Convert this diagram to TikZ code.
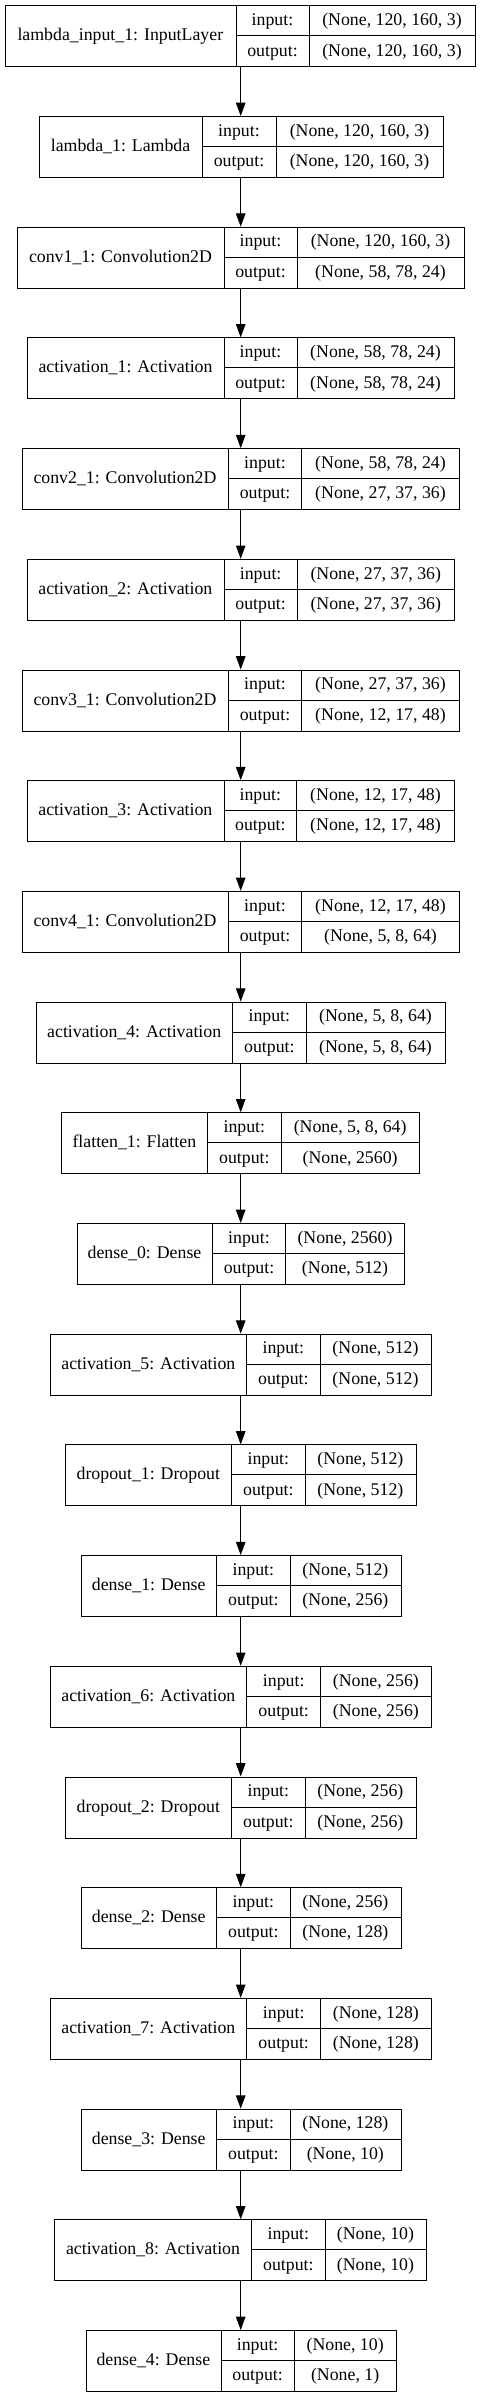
\documentclass[tikz,border=0pt]{standalone}
\usepackage{fontspec}
\setmainfont{Liberation Serif}
\usetikzlibrary{arrows.meta}
\tikzset{
  box/.style={draw, line width=1pt, anchor=north west, minimum height=61pt, inner sep=0pt},
  cell/.style={line width=1pt},
  txt/.style={inner sep=0pt, text height=13pt, text depth=3pt, font=\fontsize{17.8}{20}\selectfont},
  arr/.style={line width=1pt, -{Triangle[length=13.3pt, width=9.5pt]}}
}
\newcommand\lyr[8]{%
  \pgfmathsetmacro\Ly{5.3+#1*110.7}%
  \pgfmathsetmacro\Lm{\Ly+30.5}%
  \pgfmathsetmacro\Lb{\Ly+61}%
  \pgfmathsetmacro\Lw{#5-#2}%
  \node[box, minimum width=\Lw pt] (L#1) at (#2,\Ly) {};
  \draw[cell] (#3,\Ly) -- (#3,\Lb) (#4,\Ly) -- (#4,\Lb) (#3,\Lm) -- (#5,\Lm);
  \node[txt] (L#1name) at ({(#2+#3)/2},\Lm) {#6};
  \node[txt] (L#1inl) at ({(#3+#4)/2},{\Ly+15.25}) {input:};
  \node[txt] (L#1outl) at ({(#3+#4)/2},{\Ly+45.75}) {output:};
  \node[txt] (L#1in) at ({(#4+#5)/2},{\Ly+15.25}) {#7};
  \node[txt] (L#1out) at ({(#4+#5)/2},{\Ly+45.75}) {#8};
}
\begin{document}
\begin{tikzpicture}[x=1pt, y=-1pt]
\fill[white] (0,0) rectangle (481,2397);
\useasboundingbox (0,0) rectangle (481,2397);
\coordinate (ax) at (240.7,0);
\lyr{0}{4.7}{236}{309}{475}{lambda\_input\_1: InputLayer}{(None, 120, 160, 3)}{(None, 120, 160, 3)}
\lyr{1}{39}{202}{276}{443}{lambda\_1: Lambda}{(None, 120, 160, 3)}{(None, 120, 160, 3)}
\lyr{2}{17}{224}{297}{464}{conv1\_1: Convolution2D}{(None, 120, 160, 3)}{(None, 58, 78, 24)}
\lyr{3}{27}{224}{297}{454}{activation\_1: Activation}{(None, 58, 78, 24)}{(None, 58, 78, 24)}
\lyr{4}{21.7}{228.3}{301.7}{459.3}{conv2\_1: Convolution2D}{(None, 58, 78, 24)}{(None, 27, 37, 36)}
\lyr{5}{26.7}{224}{297.3}{454.3}{activation\_2: Activation}{(None, 27, 37, 36)}{(None, 27, 37, 36)}
\lyr{6}{21.7}{228.3}{301.7}{459.3}{conv3\_1: Convolution2D}{(None, 27, 37, 36)}{(None, 12, 17, 48)}
\lyr{7}{26.7}{224}{296.7}{454.3}{activation\_3: Activation}{(None, 12, 17, 48)}{(None, 12, 17, 48)}
\lyr{8}{21.7}{228.3}{301.7}{459.3}{conv4\_1: Convolution2D}{(None, 12, 17, 48)}{(None, 5, 8, 64)}
\lyr{9}{35.7}{232.7}{306}{445}{activation\_4: Activation}{(None, 5, 8, 64)}{(None, 5, 8, 64)}
\lyr{10}{61}{207.7}{281}{419.3}{flatten\_1: Flatten}{(None, 5, 8, 64)}{(None, 2560)}
\lyr{11}{76.7}{212.3}{285.7}{404.3}{dense\_0: Dense}{(None, 2560)}{(None, 512)}
\lyr{12}{50}{246.7}{320}{431}{activation\_5: Activation}{(None, 512)}{(None, 512)}
\lyr{13}{65}{231.7}{305}{415.7}{dropout\_1: Dropout}{(None, 512)}{(None, 512)}
\lyr{14}{80.7}{216.7}{290}{400.7}{dense\_1: Dense}{(None, 512)}{(None, 256)}
\lyr{15}{50}{246.7}{320.7}{431}{activation\_6: Activation}{(None, 256)}{(None, 256)}
\lyr{16}{65}{231.7}{305}{415.7}{dropout\_2: Dropout}{(None, 256)}{(None, 256)}
\lyr{17}{80.7}{216.7}{290}{400.7}{dense\_2: Dense}{(None, 256)}{(None, 128)}
\lyr{18}{50}{246.7}{320.7}{431}{activation\_7: Activation}{(None, 128)}{(None, 128)}
\lyr{19}{80.7}{216.7}{290}{400.7}{dense\_3: Dense}{(None, 128)}{(None, 10)}
\lyr{20}{54.3}{251.7}{325}{426}{activation\_8: Activation}{(None, 10)}{(None, 10)}
\lyr{21}{85.7}{221}{294.3}{396}{dense\_4: Dense}{(None, 10)}{(None, 1)}
\foreach \i [evaluate=\i as \j using int(\i+1)] in {0,...,20}{
  \draw[arr] (ax |- L\i.south) -- (ax |- L\j.north);
}
\end{tikzpicture}
\end{document}
